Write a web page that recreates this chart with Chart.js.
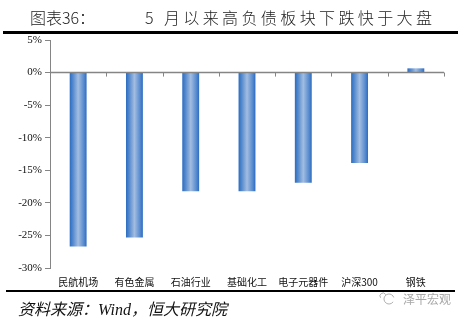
<!DOCTYPE html>
<html><head><meta charset="utf-8">
<script src="https://cdn.jsdelivr.net/npm/chart.js@4"></script>
<style>html,body{margin:0;padding:0;background:#fff}#wrap{width:462px;height:323px;position:relative}</style>
</head><body><div id="wrap"><canvas id="c" width="462" height="323"></canvas></div>
<script>
const categories = ['民航机场','有色金属','石油行业','基础化工','电子元器件','沪深300','钢铁'];
const changePct = [-26.7, -25.3, -18.2, -18.2, -16.9, -13.9, 0.65];
const yTicks = [5, 0, -5, -10, -15, -20, -25, -30];
const titleLeft = '图表36：';
const titleRight = '5 月以来高负债板块下跌快于大盘';
const sourceText = '资料来源：Wind，恒大研究院';
const watermark = '泽平宏观';

const CJK = "'Noto Sans CJK SC','Noto Sans',sans-serif";
const catPct = 0.6, barPct = 0.5;

function barGradient(ctx){
  const chart = ctx.chart;
  const xs = chart.scales.x;
  if (!xs || xs.width === undefined) return '#5b8fd0';
  const cx = xs.getPixelForValue(ctx.dataIndex);
  const w = (xs.width / categories.length) * catPct * barPct;
  const g = chart.ctx.createLinearGradient(cx - w/2, 0, cx + w/2, 0);
  g.addColorStop(0, '#2c6cc0');
  g.addColorStop(0.18, '#5288cd');
  g.addColorStop(0.5, '#a2bde1');
  g.addColorStop(0.82, '#5a8dd0');
  g.addColorStop(1, '#2c6cc0');
  return g;
}

const decor = {
  id: 'decor',
  beforeDraw(chart){
    const c = chart.ctx;
    c.save();
    c.fillStyle = '#fff';
    c.fillRect(0,0,chart.width,chart.height);
    c.restore();
  },
  afterDatasetsDraw(chart){
    const c = chart.ctx, xs = chart.scales.x, ys = chart.scales.y;
    const y0 = ys.getPixelForValue(0);
    c.save();
    c.strokeStyle = '#858585';
    c.lineWidth = 1.5;
    c.beginPath(); c.moveTo(xs.left, y0); c.lineTo(xs.right, y0); c.stroke();
    c.lineWidth = 1;
    for (let i = 1; i <= categories.length; i++){
      const x = Math.round(xs.getPixelForValue(i - 0.5)) + 0.5;
      c.beginPath(); c.moveTo(x, y0); c.lineTo(x, y0 + 4); c.stroke();
    }
    c.restore();
  },
  afterDraw(chart){
    const c = chart.ctx;
    c.save();
    // title
    c.fillStyle = '#222';
    c.textBaseline = 'alphabetic';
    c.font = "300 16px " + CJK;
    c.fillText(titleLeft, 30, 24);
    const chars = Array.from(titleRight);
    const start = 145, end = 432;
    let total = 0; const ws = chars.map(ch => { const w = c.measureText(ch).width; total += w; return w; });
    const gap = (end - start - total) / (chars.length - 1);
    let x = start;
    chars.forEach((ch, i) => { c.fillText(ch, x, 24); x += ws[i] + gap; });
    // underline
    c.fillStyle = '#000';
    c.fillRect(3, 31, 455, 3);
    // bottom rule
    c.fillRect(6, 290, 449, 2);
    // source
    c.font = "italic 16px 'Liberation Serif'," + CJK;
    c.fillStyle = '#111';
    c.fillText(sourceText, 18, 315);
    // watermark
    c.strokeStyle = '#b0b0b0'; c.lineWidth = 1;
    c.beginPath(); c.arc(389, 299, 5, 0.6, Math.PI * 1.9); c.stroke();
    c.beginPath(); c.arc(383, 296, 3, Math.PI*0.8, Math.PI*1.9); c.stroke();
    c.font = "12px " + CJK;
    c.fillStyle = '#a8a8a8';
    c.fillText(watermark, 403, 304);
    c.restore();
  }
};

new Chart(document.getElementById('c'), {
  type: 'bar',
  data: {
    labels: categories,
    datasets: [{
      data: changePct,
      backgroundColor: barGradient,
      borderWidth: 0,
      categoryPercentage: catPct,
      barPercentage: barPct
    }]
  },
  plugins: [decor],
  options: {
    responsive: false,
    animation: false,
    devicePixelRatio: 1,
    layout: { padding: { left: 0, right: 18, top: 40, bottom: 0 } },
    plugins: { legend: { display: false }, tooltip: { enabled: false } },
    scales: {
      x: {
        grid: { display: false },
        border: { display: false },
        ticks: { color: '#111', font: { family: CJK, size: 10 }, padding: 0, maxRotation: 0, autoSkip: false },
        afterFit(s){ s.height = 55; }
      },
      y: {
        min: -30, max: 5,
        afterBuildTicks(s){ s.ticks = yTicks.map(v => ({ value: v })); },
        grid: { drawOnChartArea: false, tickLength: 5, color: '#858585' },
        border: { display: true, color: '#858585', width: 1 },
        ticks: { color: '#111', font: { family: "'Liberation Serif',serif", size: 11 }, padding: 3,
                 callback: v => v + '%' },
        afterFit(s){ s.width = 50; }
      }
    }
  }
});
</script></body></html>
